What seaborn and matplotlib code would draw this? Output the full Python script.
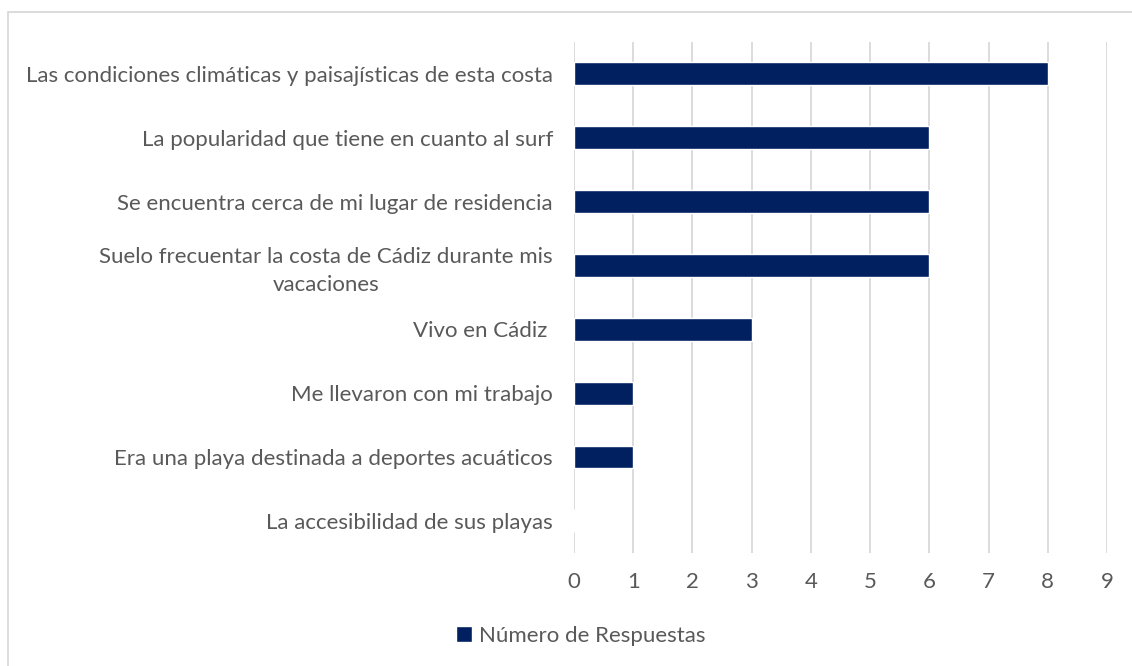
import matplotlib
matplotlib.use("Agg")
import matplotlib.pyplot as plt
import seaborn as sns
import pandas as pd
from matplotlib.patches import Rectangle

motivos = [
    "Las condiciones climáticas y paisajísticas de esta costa",
    "La popularidad que tiene en cuanto al surf",
    "Se encuentra cerca de mi lugar de residencia",
    "Suelo frecuentar la costa de Cádiz durante mis\nvacaciones",
    "Vivo en Cádiz ",
    "Me llevaron con mi trabajo",
    "Era una playa destinada a deportes acuáticos",
    "La accesibilidad de sus playas",
]
respuestas = [8, 6, 6, 6, 3, 1, 1, 0]
serie = "Número de Respuestas"

datos = pd.DataFrame({"Motivo": motivos, "Respuestas": respuestas, "Serie": serie})

sns.set_style("white")
plt.rcParams["font.family"] = ["Lato", "DejaVu Sans"]
gris = "#595959"

fig = plt.figure(figsize=(11.32, 6.66), dpi=100)
ax = fig.add_axes([0.507, 0.170, 0.471, 0.767])

sns.barplot(data=datos, x="Respuestas", y="Motivo", hue="Serie",
            palette=["#002060"], saturation=1, width=0.36, ax=ax, zorder=3)

ax.set_xlim(0, 9)
ax.set_xticks(range(0, 10))
ax.grid(axis="x", color="#d9d9d9", linewidth=1.3, zorder=0)
ax.set_axisbelow(True)
for s in ax.spines.values():
    s.set_visible(False)
ax.tick_params(axis="y", length=0, labelsize=16, colors=gris, pad=15)
ax.tick_params(axis="x", length=0, labelsize=16, colors=gris, pad=14)
ax.set_xlabel("")
ax.set_ylabel("")
for t in ax.get_yticklabels():
    t.set_multialignment("center")
    t.set_linespacing(1.45)

leg = ax.legend(loc="center", bbox_to_anchor=(0.513, 0.045), bbox_transform=fig.transFigure,
                frameon=False, fontsize=16, handlelength=0.7, handleheight=0.7,
                handletextpad=0.3)
for t in leg.get_texts():
    t.set_color(gris)

fig.patches.append(Rectangle((8 / 1132, -0.1), 1.2, 1 - 12 / 666 + 0.1,
                             transform=fig.transFigure, fill=False,
                             edgecolor="#d9d9d9", linewidth=1.3))

fig.savefig("out.png", dpi=100)
